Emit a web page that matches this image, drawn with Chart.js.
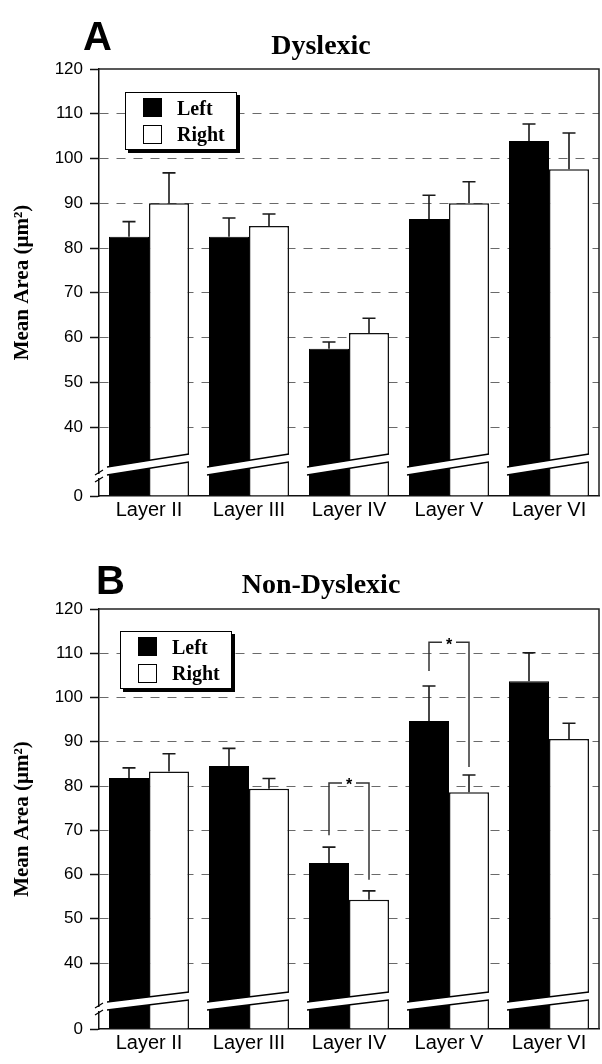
<!DOCTYPE html>
<html><head><meta charset="utf-8">
<script src="https://cdn.jsdelivr.net/npm/chart.js@4.4.0/dist/chart.umd.min.js"></script>
<style>
html,body{margin:0;padding:0;background:#fff;}
.panel{position:absolute;left:0;width:602px;height:532px;}
canvas{display:block;}
</style></head><body>
<div class="panel" style="top:0"><canvas id="cA" width="602" height="532"></canvas></div>
<div class="panel" style="top:532px"><canvas id="cB" width="602" height="532"></canvas></div>
<script>
// ---- data ----
const categories = ['Layer II', 'Layer III', 'Layer IV', 'Layer V', 'Layer VI'];
const seriesNames = ['Left', 'Right'];
const yTickValues = [40, 50, 60, 70, 80, 90, 100, 110, 120];
const yBreakLabel = '0';

// Panel A: Dyslexic
const dysLeft = [82.5, 82.5, 57.5, 86.5, 103.9];
const dysLeftErr = [3.4, 4.2, 1.5, 5.3, 3.8];
const dysRight = [90.0, 84.9, 61.0, 90.0, 97.6];
const dysRightErr = [6.8, 2.7, 3.3, 4.8, 8.1];

// Panel B: Non-Dyslexic
const nonLeft = [81.8, 84.5, 62.6, 94.7, 103.7];
const nonLeftErr = [2.3, 4.0, 3.6, 7.9, 6.4];
const nonRight = [83.3, 79.4, 54.3, 78.6, 90.6];
const nonRightErr = [4.0, 2.3, 2.0, 3.9, 3.6];

// significance brackets (Panel B): category index, left end, top, right end (values)
const sigCategory = [2, 3];
const sigLeftEnd = [68.9, 106.0];
const sigTop = [80.7, 112.5];
const sigRightEnd = [58.8, 84.3];
const sigLabel = '*';

// ---- drawing helpers ----
const SERIF = '"Liberation Serif", "DejaVu Serif", serif';
const SANS = '"Liberation Sans", Arial, sans-serif';

const decor = {
  id: 'decor',
  afterDatasetsDraw(chart, args, o) {
    const ctx = chart.ctx, ca = chart.chartArea, y = chart.scales.y;
    const m0 = chart.getDatasetMeta(0), m1 = chart.getDatasetMeta(1);
    const ds = chart.data.datasets;
    ctx.save();
    // error bars (upward only)
    ctx.strokeStyle = '#1a1a1a'; ctx.lineWidth = 1.6;
    [[m0, ds[0].data, o.errL], [m1, ds[1].data, o.errR]].forEach(([meta, vals, errs]) => {
      meta.data.forEach((bar, i) => {
        const yt = y.getPixelForValue(vals[i] + errs[i]);
        ctx.beginPath();
        ctx.moveTo(bar.x, bar.y); ctx.lineTo(bar.x, yt);
        ctx.moveTo(bar.x - 6.5, yt); ctx.lineTo(bar.x + 6.5, yt);
        ctx.stroke();
      });
    });
    // axis-break bands across each group
    const yb = y.bottom;
    m0.data.forEach((b0, i) => {
      const b1 = m1.data[i];
      const xl = b0.x - b0.width / 2 - 2, xr = b1.x + b1.width / 2 + 1;
      const yl = yb - o.bandL, yr = yb - o.bandR, h = 4;
      ctx.fillStyle = '#fff';
      ctx.beginPath();
      ctx.moveTo(xl, yl - h); ctx.lineTo(xr, yr - h); ctx.lineTo(xr, yr + h); ctx.lineTo(xl, yl + h);
      ctx.closePath(); ctx.fill();
      ctx.strokeStyle = '#000'; ctx.lineWidth = 1.3;
      ctx.beginPath();
      ctx.moveTo(xl, yl - h); ctx.lineTo(xr - 1, yr - h);
      ctx.moveTo(xl, yl + h); ctx.lineTo(xr - 1, yr + h);
      ctx.stroke();
    });
    // frame top and right
    ctx.strokeStyle = '#222'; ctx.lineWidth = 1.5;
    ctx.beginPath();
    ctx.moveTo(ca.left, ca.top); ctx.lineTo(ca.right, ca.top); ctx.lineTo(ca.right, ca.bottom);
    ctx.stroke();
    // y-axis break mark
    ctx.fillStyle = '#fff';
    ctx.fillRect(ca.left - 2, yb - 22, 4, 4);
    ctx.strokeStyle = '#000'; ctx.lineWidth = 1.2;
    ctx.beginPath();
    ctx.moveTo(ca.left - 4, yb - 21); ctx.lineTo(ca.left + 4, yb - 26);
    ctx.moveTo(ca.left - 4, yb - 14); ctx.lineTo(ca.left + 4, yb - 19);
    ctx.stroke();
    // significance brackets
    if (o.sig) {
      ctx.strokeStyle = '#333'; ctx.lineWidth = 1.5;
      o.sig.cat.forEach((c, k) => {
        const xa = m0.data[c].x, xb = m1.data[c].x, xm = (xa + xb) / 2;
        const ya = y.getPixelForValue(o.sig.left[k]);
        const yt = y.getPixelForValue(o.sig.top[k]);
        const yr = y.getPixelForValue(o.sig.right[k]);
        ctx.beginPath();
        ctx.moveTo(xa, ya); ctx.lineTo(xa, yt); ctx.lineTo(xm - 7, yt);
        ctx.moveTo(xm + 7, yt); ctx.lineTo(xb, yt); ctx.lineTo(xb, yr);
        ctx.stroke();
        ctx.fillStyle = '#000';
        ctx.font = 'bold 16px ' + SANS;
        ctx.textAlign = 'center'; ctx.textBaseline = 'middle';
        ctx.fillText(o.sig.label, xm, yt + 3);
      });
    }
    // legend
    const lx = ca.left + o.legX, ly = ca.top + o.legY, lw = 112, lh = 58;
    ctx.fillStyle = '#000';
    ctx.fillRect(lx + 3, ly + 3, lw, lh);
    ctx.fillStyle = '#fff';
    ctx.fillRect(lx, ly, lw, lh);
    ctx.strokeStyle = '#000'; ctx.lineWidth = 1;
    ctx.strokeRect(lx + 0.5, ly + 0.5, lw - 1, lh - 1);
    ctx.fillStyle = '#000';
    ctx.fillRect(lx + 18, ly + 6, 19, 19);
    ctx.strokeRect(lx + 18.5, ly + 33.5, 18, 18);
    ctx.font = 'bold 20px ' + SERIF;
    ctx.textAlign = 'left'; ctx.textBaseline = 'alphabetic';
    ctx.fillText(ds[0].label, lx + 52, ly + 23);
    ctx.fillText(ds[1].label, lx + 52, ly + 49);
    // panel letter and title
    ctx.font = 'bold 40px ' + SANS;
    ctx.fillText(o.letter, o.letterX, o.letterY);
    ctx.font = 'bold 28px ' + SERIF;
    ctx.textAlign = 'center';
    ctx.fillText(o.title, 321, o.titleY);
    ctx.restore();
  }
};

function makeChart(id, p) {
  return new Chart(document.getElementById(id), {
    type: 'bar',
    data: {
      labels: categories,
      datasets: [
        { label: seriesNames[0], data: p.left, backgroundColor: '#000', borderColor: '#000', borderWidth: 1, base: p.base },
        { label: seriesNames[1], data: p.right, backgroundColor: '#fff', borderColor: '#111', borderWidth: 1.5, base: p.base }
      ]
    },
    options: {
      responsive: false,
      animation: false,
      devicePixelRatio: 1,
      categoryPercentage: 0.8,
      barPercentage: 1.0,
      layout: { padding: { top: p.padTop, right: 3, bottom: 0, left: 0 } },
      plugins: {
        legend: { display: false },
        tooltip: { enabled: false },
        title: { display: false },
        decor: p.decor
      },
      scales: {
        x: {
          grid: { display: false, drawTicks: false },
          border: { display: true, color: '#111', width: 1.5 },
          ticks: { color: '#000', font: { family: SANS, size: 20 }, padding: 2, maxRotation: 0 },
          afterFit: s => { s.height = p.xH; }
        },
        y: {
          type: 'linear',
          min: p.base, max: 120,
          afterBuildTicks: s => { s.ticks = [p.base].concat(yTickValues).map(v => ({ value: v })); },
          ticks: {
            color: '#000', font: { family: SANS, size: 17 }, padding: 7,
            callback: v => (v === p.base ? yBreakLabel : String(v))
          },
          grid: {
            color: c => (c.tick && c.tick.value >= 40 && c.tick.value < 120) ? '#6a6a6a' : 'rgba(0,0,0,0)',
            lineWidth: 1,
            borderDash: [9, 8],
            tickColor: '#111', tickLength: 9, tickWidth: 1.5, tickBorderDash: [100, 0]
          },
          border: { display: true, color: '#111', width: 1.5, dash: [9, 8] },
          title: {
            display: true, text: 'Mean Area (µm²)', color: '#000',
            font: { family: SERIF, size: 21, weight: 'bold' }, padding: { top: 10, bottom: 0 }
          },
          afterFit: s => { s.width = 99; }
        }
      }
    },
    plugins: [decor]
  });
}

makeChart('cA', {
  left: dysLeft, right: dysRight, base: 24.6, padTop: 69, xH: 36,
  decor: { errL: dysLeftErr, errR: dysRightErr, bandL: 25, bandR: 38, legX: 26, legY: 23,
           letter: 'A', letterX: 83, letterY: 50, title: 'Dyslexic', titleY: 54 }
});
makeChart('cB', {
  left: nonLeft, right: nonRight, base: 25.1, padTop: 77, xH: 35,
  decor: { errL: nonLeftErr, errR: nonRightErr, bandL: 23, bandR: 33, legX: 21, legY: 22,
           letter: 'B', letterX: 96, letterY: 62, title: 'Non-Dyslexic', titleY: 61,
           sig: { cat: sigCategory, left: sigLeftEnd, top: sigTop, right: sigRightEnd, label: sigLabel } }
});
</script>
</body></html>
